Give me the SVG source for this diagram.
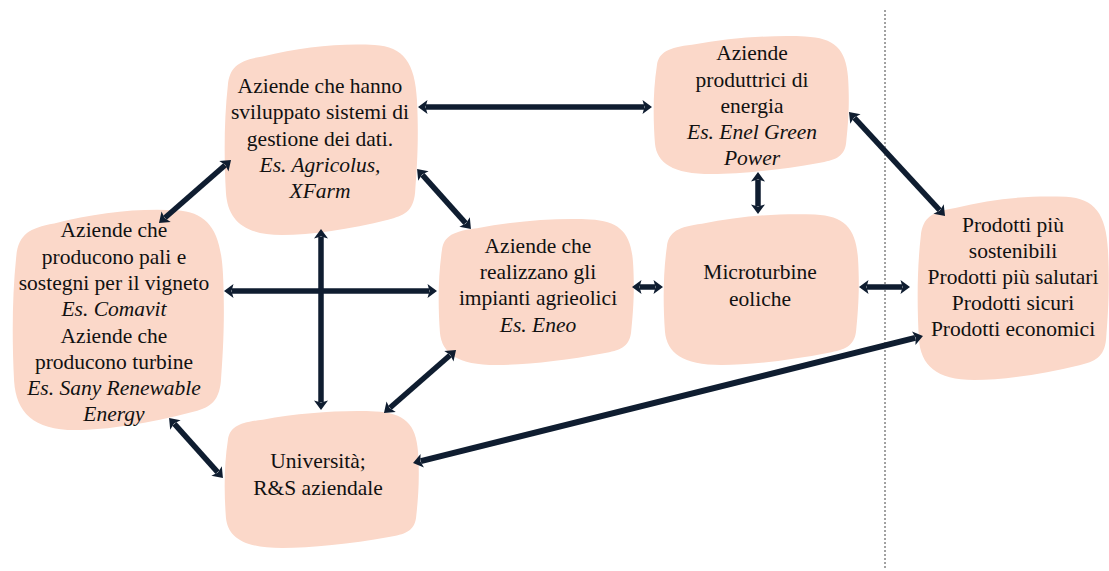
<svg xmlns="http://www.w3.org/2000/svg" xmlns:xlink="http://www.w3.org/1999/xlink" width="1109" height="571" viewBox="0 0 1109 571">
<style>
.blob{fill:#fbd8c9}
text{font-family:"Liberation Serif","Times New Roman",serif;font-size:21.5px;fill:#111;text-anchor:middle}
.it{font-style:italic}
.con line{stroke:#0f1d30;stroke-width:5.5;fill:none;marker-start:url(#ah);marker-end:url(#ah)}
.divider{stroke:#444;stroke-width:1;stroke-dasharray:2 2}
</style>
<defs>
<path id="blob" d="M0.02 0.22 C0.03 0.12 0.08 0.09 0.2 0.07 C0.4 0.02 0.6 0 0.78 0.01 C0.93 0.02 0.99 0.1 1 0.3 C1.01 0.5 1 0.65 0.99 0.78 C0.98 0.88 0.93 0.9 0.85 0.92 C0.65 0.97 0.45 1 0.3 1 C0.1 1 0.02 0.92 0.01 0.78 C0 0.6 0 0.4 0.02 0.22 Z"/>
<marker id="ah" markerUnits="userSpaceOnUse" markerWidth="20" markerHeight="20" viewBox="-4 -10 14 20" refX="0" refY="0" orient="auto-start-reverse" overflow="visible">
<path d="M-1.5 -7 L8 0 L-1.5 7 L0.5 0 Z" fill="#0f1d30"/>
</marker>
</defs>
<rect width="1109" height="571" fill="#fff"/>
<line class="divider" x1="885" y1="10" x2="885" y2="570"/>

<g id="node-dati">
<use xlink:href="#blob" class="blob" transform="translate(224 43) scale(193 192)"/>
<text x="320" y="93">Aziende che hanno</text>
<text x="320" y="119">sviluppato sistemi di</text>
<text x="320" y="146">gestione dei dati.</text>
<text x="320" y="172" class="it">Es. Agricolus,</text>
<text x="320" y="198" class="it">XFarm</text>
</g>

<g id="node-energia">
<use xlink:href="#blob" class="blob" transform="translate(653 35) scale(195 139)"/>
<text x="752" y="60">Aziende</text>
<text x="752" y="87">produttrici di</text>
<text x="752" y="113">energia</text>
<text x="752" y="139" class="it">Es. Enel Green</text>
<text x="752" y="165" class="it">Power</text>
</g>

<g id="node-pali">
<use xlink:href="#blob" class="blob" transform="translate(12 208) scale(211 222)"/>
<text x="114" y="237">Aziende che</text>
<text x="114" y="264">producono pali e</text>
<text x="114" y="290">sostegni per il vigneto</text>
<text x="114" y="316" class="it">Es. Comavit</text>
<text x="114" y="343">Aziende che</text>
<text x="114" y="369">producono turbine</text>
<text x="114" y="395" class="it">Es. Sany Renewable</text>
<text x="114" y="421" class="it">Energy</text>
</g>

<g id="node-impianti">
<use xlink:href="#blob" class="blob" transform="translate(438 218) scale(195 147)"/>
<text x="538" y="253">Aziende che</text>
<text x="538" y="279">realizzano gli</text>
<text x="538" y="305">impianti agrieolici</text>
<text x="538" y="332" class="it">Es. Eneo</text>
</g>

<g id="node-microturbine">
<use xlink:href="#blob" class="blob" transform="translate(663 213) scale(195 152)"/>
<text x="760" y="279">Microturbine</text>
<text x="760" y="306">eoliche</text>
</g>

<g id="node-prodotti">
<use xlink:href="#blob" class="blob" transform="translate(917 195) scale(191 185)"/>
<text x="1013" y="232">Prodotti più</text>
<text x="1013" y="258">sostenibili</text>
<text x="1013" y="284">Prodotti più salutari</text>
<text x="1013" y="310">Prodotti sicuri</text>
<text x="1013" y="336">Prodotti economici</text>
</g>

<g id="node-universita">
<use xlink:href="#blob" class="blob" transform="translate(224 410) scale(194 138)"/>
<text x="318" y="468">Università;</text>
<text x="318" y="495">R&amp;S aziendale</text>
</g>

<g id="connectors" class="con">
<line x1="426" y1="107" x2="644" y2="107"/>
<line x1="225" y1="165.3" x2="165" y2="217.7"/>
<line x1="422.4" y1="174.9" x2="465.6" y2="223.1"/>
<line x1="321" y1="237" x2="321" y2="402"/>
<line x1="232" y1="291" x2="429" y2="291"/>
<line x1="450" y1="355.3" x2="390" y2="407.7"/>
<line x1="174.4" y1="423.9" x2="217.6" y2="472.1"/>
<line x1="758" y1="180" x2="758" y2="206"/>
<line x1="640" y1="287" x2="655" y2="287"/>
<line x1="867" y1="287" x2="902" y2="287"/>
<line x1="854.4" y1="117.9" x2="939.6" y2="210.1"/>
<line x1="915.2" y1="337.9" x2="420.8" y2="461.1" style="stroke-width:6"/>
</g>
</svg>
